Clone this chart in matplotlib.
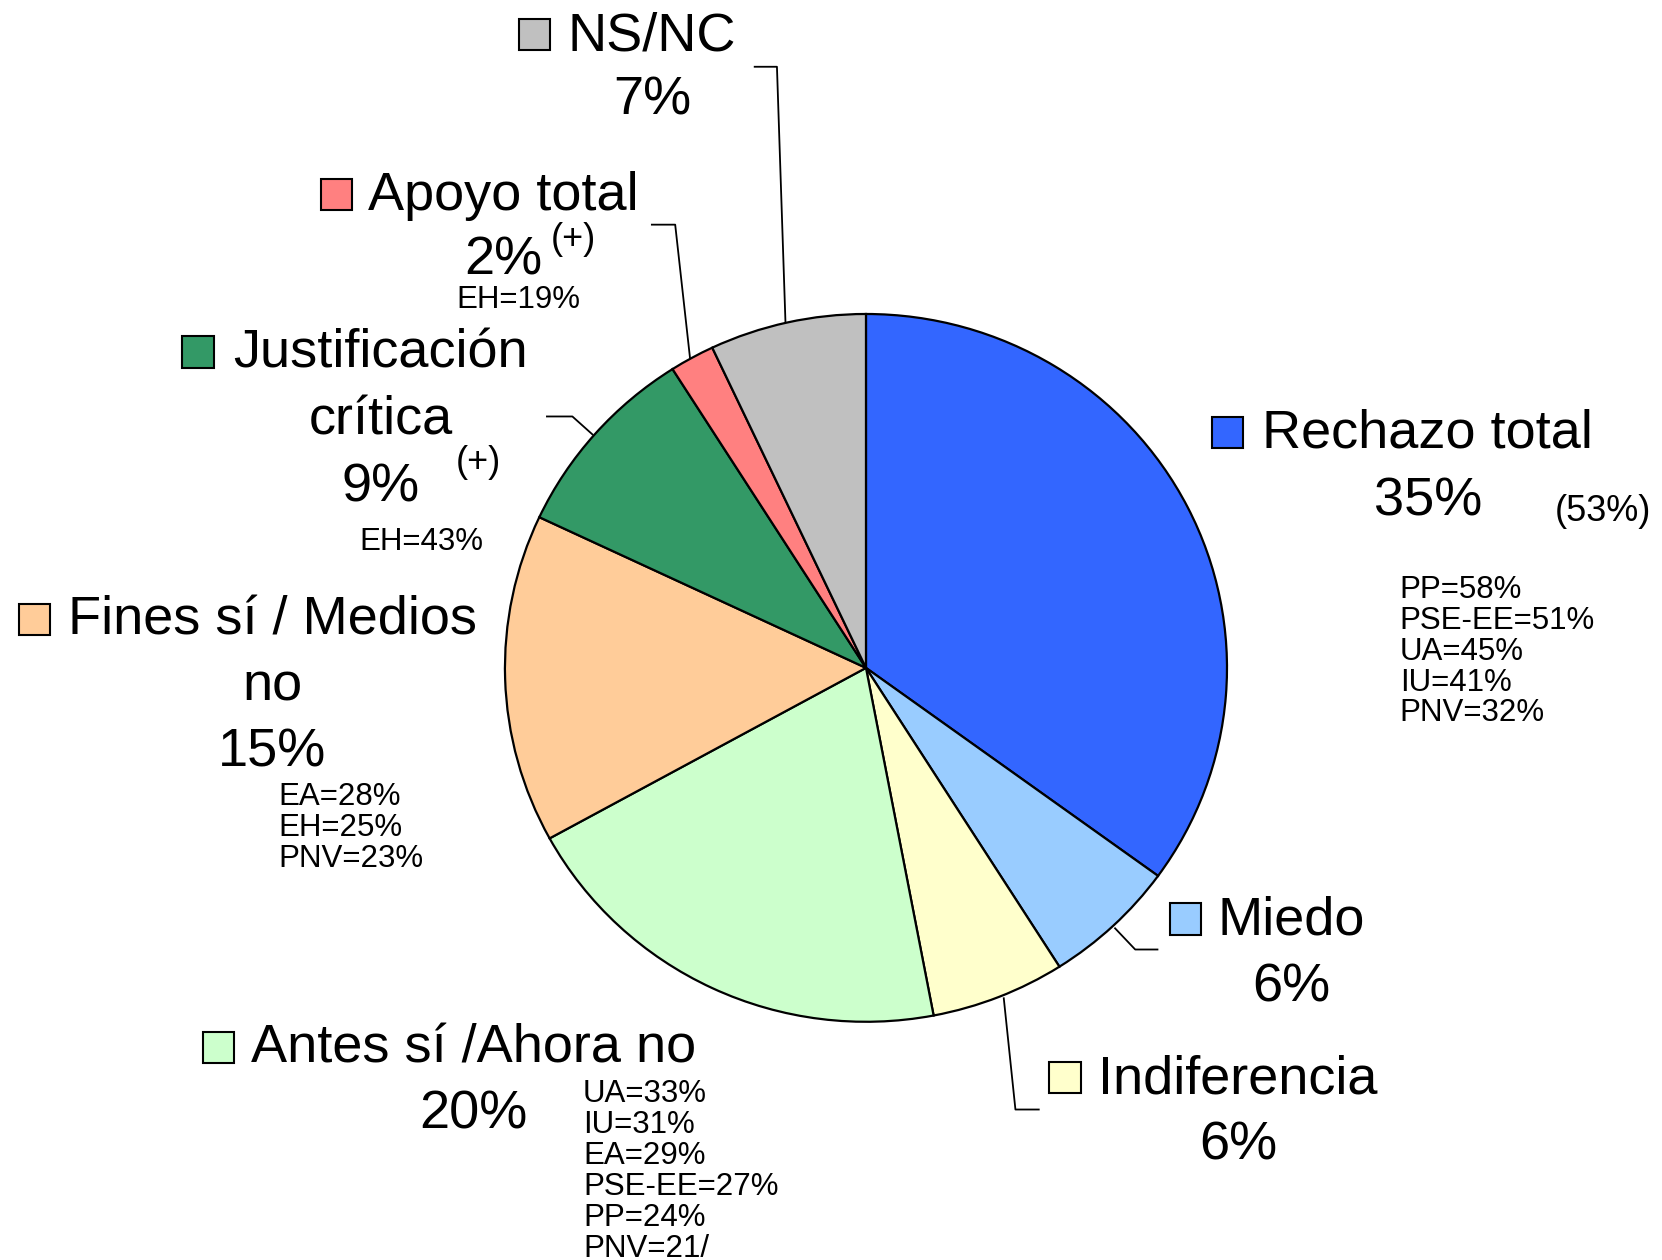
import matplotlib.pyplot as plt
from matplotlib.patches import Rectangle

plt.rcParams['font.family'] = ['Liberation Sans', 'DejaVu Sans']

# slices, clockwise from 12 o'clock
categories = ['Rechazo total', 'Miedo', 'Indiferencia', 'Antes sí /Ahora no',
              'Fines sí / Medios no', 'Justificación crítica', 'Apoyo total', 'NS/NC']
values = [35, 6, 6, 20, 15, 9, 2, 7]
colors = ['#3366FF', '#99CCFF', '#FFFFCC', '#CCFFCC', '#FFCC99', '#339966', '#FF8080', '#C0C0C0']

# party breakdowns
rechazo_parties = ['PP=58%', 'PSE-EE=51%', 'UA=45%', 'IU=41%', 'PNV=32%']
antes_parties = ['UA=33%', 'IU=31%', 'EA=29%', 'PSE-EE=27%', 'PP=24%', 'PNV=21/']
fines_parties = ['EA=28%', 'EH=25%', 'PNV=23%']
apoyo_note = 'EH=19%'
justif_note = 'EH=43%'
rechazo_other = '(53%)'

fig = plt.figure(figsize=(16.62, 12.6), dpi=100)

# pie axes (reference coords are in a 1568 x 1189 frame)
W, H = 1568, 1189
left, right, top, bottom = 476.4, 1157.6, 296.3, 964.2
axp = fig.add_axes([left / W, 1 - bottom / H, (right - left) / W, (bottom - top) / H])
wedges, _ = axp.pie(values, colors=colors, startangle=90, counterclock=False,
                    wedgeprops=dict(edgecolor='black', linewidth=1.6))
for w in wedges:
    w.set_clip_on(False)
axp.set_aspect('auto')
axp.set_xlim(-1, 1)
axp.set_ylim(-1, 1)
axp.axis('off')

# overlay for labels
ax = fig.add_axes([0, 0, 1, 1])
ax.set_xlim(0, W)
ax.set_ylim(H, 0)
ax.axis('off')

BIG = 39
SMALL = 22.5
MID = 26


def key(x, y, c):
    ax.add_patch(Rectangle((x, y - 29.5), 29.5, 29.5, facecolor=c, edgecolor='black', lw=1.5))


def lines(cx, ys, texts, size=BIG):
    for y, t in zip(ys, texts):
        ax.text(cx, y, t, fontsize=size, ha='center', va='baseline')


def plist(x, y0, items, step=29.2):
    for i, t in enumerate(items):
        ax.text(x, y0 + i * step, t, fontsize=SMALL, ha='left', va='baseline')


# NS/NC
key(489.5, 47.5, colors[7])
lines(615, [47.5, 108.5], ['NS/NC', '%d%%' % values[7]])

# Apoyo total
key(302.5, 198, colors[6])
lines(475, [198, 259.4], ['Apoyo total', '%d%%' % values[6]])
ax.text(520, 235, '(+)', fontsize=MID, ha='left', va='baseline')
ax.text(489, 290.6, apoyo_note, fontsize=SMALL, ha='center', va='baseline')

# Justificación crítica
key(172, 347, colors[5])
lines(359, [347, 410, 473.6], ['Justificación', 'crítica', '%d%%' % values[5]])
ax.text(430, 445, '(+)', fontsize=MID, ha='left', va='baseline')
ax.text(398, 519, justif_note, fontsize=SMALL, ha='center', va='baseline')

# Fines sí / Medios no
key(18, 599, colors[4])
lines(257, [599, 661, 723], ['Fines sí / Medios', 'no', '%d%%' % values[4]])
plist(263, 760, fines_parties)

# Antes sí / Ahora no
key(191.5, 1003, colors[3])
lines(447, [1003, 1065], ['Antes sí /Ahora no', '%d%%' % values[3]])
plist(550, 1040, antes_parties)

# Indiferencia
key(990, 1031.5, colors[2])
lines(1168, [1031.5, 1094.5], ['Indiferencia', '%d%%' % values[2]])

# Miedo
key(1103.5, 882, colors[1])
lines(1218, [882, 945], ['Miedo', '%d%%' % values[1]])

# Rechazo total
key(1143, 422.7, colors[0])
lines(1347, [422.7, 486], ['Rechazo total', '%d%%' % values[0]])
ax.text(1467, 492, rechazo_other, fontsize=MID, ha='left', va='baseline')
plist(1320.5, 564, rechazo_parties)

# leader lines
leaders = [
    ([712, 733, 741], [63, 63, 303]),
    ([615, 637, 651], [212, 212, 338]),
    ([516, 540, 559], [393, 393, 410]),
    ([1052, 1071, 1092], [876, 896, 896]),
    ([947, 958, 980], [942, 1047, 1047]),
]
for xs, ys in leaders:
    ax.plot(xs, ys, color='black', lw=1.3)

fig.savefig('out.png', dpi=100)
